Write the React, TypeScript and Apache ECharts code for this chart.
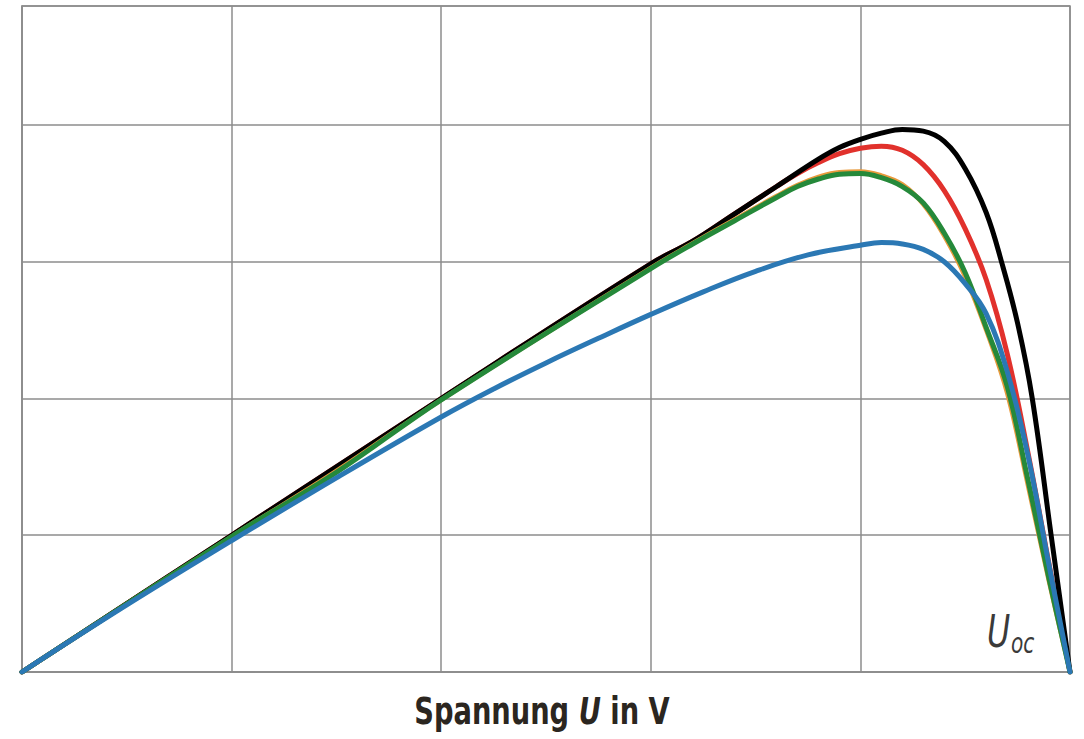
import React, { useEffect, useRef } from "react";
import * as echarts from "echarts";

// Voltage (x, in grid units) and power (y, in grid units) per curve
const blackU = [0, 1, 2, 3, 3.2, 3.4, 3.6, 3.8, 3.9, 4.0, 4.1, 4.2, 4.3, 4.4, 4.5, 4.6, 4.675, 4.75, 4.82, 4.91, 5.0];
const blackP = [0, 1.0, 2.0, 2.985, 3.15, 3.35, 3.55, 3.75, 3.835, 3.895, 3.94, 3.967, 3.955, 3.88, 3.68, 3.36, 2.99, 2.55, 2.0, 1.0, 0];

const redU = [0, 1, 2, 3, 3.2, 3.4, 3.6, 3.7, 3.8, 3.9, 4.0, 4.1, 4.2, 4.3, 4.4, 4.5, 4.6, 4.7, 4.8, 4.9, 5.0];
const redP = [0, 1.0, 2.0, 2.985, 3.15, 3.35, 3.55, 3.645, 3.725, 3.79, 3.83, 3.845, 3.815, 3.71, 3.52, 3.24, 2.87, 2.33, 1.6, 0.79, 0];

const orangeU = [0, 1, 1.5, 2, 3, 3.2, 3.4, 3.6, 3.7, 3.8, 3.9, 4.0, 4.1, 4.2, 4.3, 4.4, 4.5, 4.6, 4.7, 4.8, 4.9, 5.0];
const orangeP = [0, 0.99, 1.47, 1.99, 2.955, 3.135, 3.31, 3.48, 3.56, 3.62, 3.655, 3.66, 3.63, 3.565, 3.42, 3.19, 2.89, 2.5, 2.04, 1.36, 0.66, 0];

const greenU = [0, 1, 1.5, 2, 3, 3.2, 3.4, 3.6, 3.7, 3.8, 3.9, 4.0, 4.1, 4.2, 4.3, 4.4, 4.5, 4.6, 4.7, 4.8, 4.9, 5.0];
const greenP = [0, 0.99, 1.46, 1.99, 2.95, 3.13, 3.3, 3.47, 3.55, 3.605, 3.64, 3.645, 3.615, 3.55, 3.43, 3.21, 2.92, 2.52, 2.09, 1.4, 0.68, 0];

const blueU = [0, 0.5, 1, 1.5, 2, 2.25, 2.5, 2.75, 3.0, 3.25, 3.5, 3.75, 4.0, 4.1, 4.2, 4.3, 4.4, 4.5, 4.6, 4.7, 4.8, 4.9, 5.0];
const blueP = [0, 0.49, 0.96, 1.42, 1.865, 2.07, 2.26, 2.44, 2.615, 2.78, 2.93, 3.05, 3.12, 3.14, 3.13, 3.09, 3.0, 2.84, 2.62, 2.2, 1.58, 0.78, 0];

const xTicks = [0, 1, 2, 3, 4, 5];
const yMax = 4.87;

const axisTitle = ["Spannung ", "U", " in V"];
const uocLabel = ["U", "oc"];

const pairs = (xs: number[], ys: number[]) => xs.map((x, i) => [x, ys[i]]);

const NARROW = "'Liberation Sans Narrow', 'DejaVu Sans Condensed', 'DejaVu Sans', sans-serif";

export default function App() {
  const ref = useRef<HTMLDivElement>(null);

  useEffect(() => {
    if (!ref.current) return;
    const chart = echarts.init(ref.current, null, { renderer: "svg" });
    const grey = "#8c8c8c";
    const line = (name: string, xs: number[], ys: number[], color: string, width: number, z: number) => ({
      name,
      type: "line",
      data: pairs(xs, ys),
      showSymbol: false,
      symbol: "none",
      smooth: 0.4,
      lineStyle: { color, width, cap: "round", join: "round" },
      z,
    });
    chart.setOption({
      animation: false,
      backgroundColor: "#ffffff",
      grid: {
        left: 22,
        top: 6,
        right: 14,
        bottom: 67,
        outerBoundsMode: "none",
        containLabel: false,
        show: true,
        borderColor: grey,
        borderWidth: 1.5,
        backgroundColor: "transparent",
      },
      xAxis: {
        type: "value",
        min: xTicks[0],
        max: xTicks[xTicks.length - 1],
        interval: 1,
        axisLine: { show: true, lineStyle: { color: grey, width: 1.5 } },
        axisTick: { show: false },
        axisLabel: { show: false },
        splitLine: { show: true, lineStyle: { color: grey, width: 1.5 } },
      },
      yAxis: {
        type: "value",
        min: 0,
        max: yMax,
        interval: 1,
        axisLine: { show: true, lineStyle: { color: grey, width: 1.5 } },
        axisTick: { show: false },
        axisLabel: { show: false },
        splitLine: { show: true, lineStyle: { color: grey, width: 1.5 } },
      },
      graphic: [
        {
          type: "text",
          x: 542,
          y: 711,
          scaleX: 0.82,
          style: {
            text: `{a|${axisTitle[0]}}{b|${axisTitle[1]}}{a|${axisTitle[2]}}`,
            align: "center",
            verticalAlign: "middle",
            rich: {
              a: { fontFamily: NARROW, fontWeight: "bold", fontSize: 37, fill: "#2b2620" },
              b: { fontFamily: NARROW, fontWeight: "bold", fontStyle: "italic", fontSize: 37, fill: "#2b2620" },
            },
          },
        },
        {
          type: "text",
          x: 987,
          y: 607,
          scaleX: 0.8,
          style: {
            text: `{u|${uocLabel[0]}}{s|${uocLabel[1]}}`,
            rich: {
              u: { fontFamily: NARROW, fontStyle: "italic", fontSize: 44, fill: "#3a3a3a", lineHeight: 50 },
              s: { fontFamily: NARROW, fontStyle: "italic", fontSize: 28, fill: "#3a3a3a", padding: [22, 0, 0, 1] },
            },
          },
        },
      ],
      series: [
        line("red", redU, redP, "#e1312c", 5, 2),
        line("black", blackU, blackP, "#000000", 5, 3),
        line("orange", orangeU, orangeP, "#e89a3c", 4.5, 4),
        line("green", greenU, greenP, "#25893a", 5, 5),
        line("blue", blueU, blueP, "#2b78b4", 5, 6),
      ],
    });
    return () => chart.dispose();
  }, []);

  return (
    <div
      ref={ref}
      style={{ position: "fixed", left: 0, top: 0, width: 1084, height: 739, background: "#fff" }}
    />
  );
}
